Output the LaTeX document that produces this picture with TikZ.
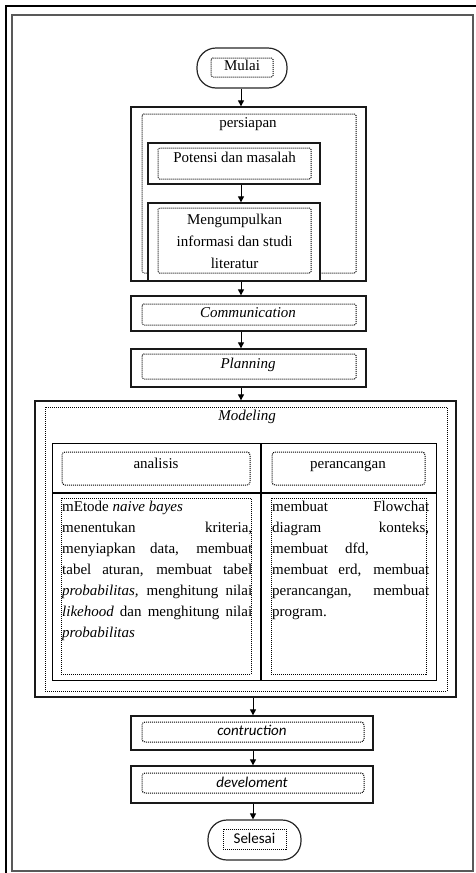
\documentclass[tikz,border=0pt]{standalone}
\usepackage{fontspec}
\setmainfont{Liberation Serif}
\newfontfamily\carl{Carlito}
\usetikzlibrary{arrows.meta,fit}
\begin{document}
\begin{tikzpicture}[x=1pt,y=-1pt,
  solidbox/.style={draw=black!90, line width=1.3pt, inner sep=0pt},
  dotbox/.style={draw=black, line width=1pt, dash pattern=on 1pt off 1pt, inner sep=0pt, rounded corners=1.5pt},
  term/.style={draw=black!85, line width=1.2pt, inner sep=0pt, rounded corners=19pt},
  txt/.style={inner sep=0pt, text height=10.5pt, text depth=3.5pt, font=\fontsize{15}{21}\selectfont},
  mtxt/.style={inner sep=0pt, align=center, font=\fontsize{15}{22}\selectfont},
  arr/.style={draw=black, line width=1pt, -{Triangle[length=6pt,width=6pt]}},
  tline/.style={draw=black, line width=1.2pt}
]
\useasboundingbox (0,0) rectangle (476,873);
\clip (0,0) rectangle (476,873);
% page frames
\draw[line width=2.2pt, black] (6,890) -- (6,6) -- (490,6);
\draw[line width=2pt, black!65] (12,15) rectangle (473,871);

% Mulai
\node[term, fit={(197,48) (287,88)}] (mulai) {};
\node[dotbox, fit={(211,58) (273,77)}] (mulaiD) {};
\node[txt] (tmulai) at (242,67) {Mulai};

% persiapan
\node[solidbox, fit={(131,107) (366,281)}] (persiapan) {};
\node[dotbox, fit={(142,114) (356,273)}] (persiapanD) {};
\node[txt] (tpersiapan) at (248,124) {persiapan};

\node[solidbox, fill=white, fit={(148,143) (320,184)}] (potensi) {};
\node[dotbox, fit={(158,148) (311,179)}] (potensiD) {};
\node[txt] (tpotensi) at (234.5,159) {Potensi dan masalah};

\node[solidbox, fill=white, fit={(148,203) (320,281)}] (kumpul) {};
\node[dotbox, fit={(158,208) (311,273)}] (kumpulD) {};
\node[mtxt] (tkumpul) at (234.5,241) {Mengumpulkan\\informasi dan studi\\literatur};

% Communication / Planning
\node[solidbox, fit={(131,296) (366,331)}] (comm) {};
\node[dotbox, fit={(142,304) (356,325)}] (commD) {};
\node[txt, font=\fontsize{15}{21}\selectfont\itshape] (tcomm) at (248,314) {Communication};

\node[solidbox, fit={(131,349) (366,387)}] (plan) {};
\node[dotbox, fit={(142,354) (356,379)}] (planD) {};
\node[txt, font=\fontsize{15}{21}\selectfont\itshape] (tplan) at (248,365) {Planning};

% Modeling
\node[solidbox, fit={(35,401) (456,697)}] (model) {};
\node[dotbox, rounded corners=0pt, fit={(45,407) (447,691)}] (modelD) {};
\node[txt, font=\fontsize{15}{21}\selectfont\itshape] (tmodel) at (247,417) {Modeling};

\node[inner sep=0pt, fit={(53,444) (436,680)}] (tabel) {};
\draw[tline] (tabel.north west) rectangle (tabel.south east);
\coordinate (hsplit) at (53,493);
\coordinate (vsplit) at (261,444);
\draw[tline] (hsplit) -- (hsplit -| tabel.east);
\draw[tline] (vsplit) -- (vsplit |- tabel.south);

\node[dotbox, rounded corners=3pt, fit={(62,452) (250,485)}] (anaH) {};
\node[dotbox, rounded corners=3pt, fit={(272,452) (425,485)}] (perH) {};
\node[txt] (tana) at (156,465) {analisis};
\node[txt] (tper) at (348,465) {perancangan};

\node[dotbox, rounded corners=0pt, fit={(61,498) (251,674)}] (anaB) {};
\node[dotbox, rounded corners=0pt, fit={(271,498) (426,674)}] (perB) {};

% left body text
\node[txt, anchor=west] (a1) at (62,508) {mEtode \textit{naive bayes}};
\node[txt, anchor=west] (a2) at (62,529) {\makebox[190pt][s]{menentukan kriteria,}};
\node[txt, anchor=west] (a3) at (62,550) {\makebox[190pt][s]{menyiapkan data, membuat}};
\node[txt, anchor=west] (a4) at (62,571) {\makebox[190pt][s]{tabel aturan, membuat tabel}};
\node[txt, anchor=west] (a5) at (62,592) {\makebox[190pt][s]{\textit{probabilitas,} menghitung nilai}};
\node[txt, anchor=west] (a6) at (62,613) {\makebox[190pt][s]{\textit{likehood} dan menghitung nilai}};
\node[txt, anchor=west] (a7) at (62,634) {\textit{probabilitas}};

% right body text
\node[txt, anchor=west] (p1) at (272,508) {\makebox[157pt][s]{membuat Flowchat}};
\node[txt, anchor=west] (p2) at (272,529) {\makebox[157pt][s]{diagram konteks,}};
\node[txt, anchor=west] (p3) at (272,550) {membuat};
\node[txt, anchor=west] (p3b) at (345,550) {dfd,};
\node[txt, anchor=west] (p4) at (272,571) {\makebox[157pt][s]{membuat erd, membuat}};
\node[txt, anchor=west] (p5) at (272,592) {\makebox[157pt][s]{perancangan, membuat}};
\node[txt, anchor=west] (p6) at (272,613) {program.};

% contruction / develoment
\node[solidbox, fit={(131,716) (373,750)}] (contr) {};
\node[dotbox, rounded corners=3pt, fit={(142,722) (364,742)}] (contrD) {};
\node[txt, font=\fontsize{15}{21}\carl\itshape] (tcontr) at (252,732) {contruction};

\node[solidbox, fit={(131,766) (373,803)}] (devel) {};
\node[dotbox, rounded corners=3pt, fit={(142,773) (364,793)}] (develD) {};
\node[txt, font=\fontsize{15}{21}\carl\itshape] (tdevel) at (252,784) {develoment};

% Selesai
\node[term, fit={(208,820) (301,860)}] (selesai) {};
\node[dotbox, rounded corners=0pt, fit={(223,829) (286,849)}] (selesaiD) {};
\node[txt, font=\fontsize{15}{21}\carl] (tselesai) at (254.5,840) {Selesai};

% arrows
\coordinate (colA) at (241,0);
\draw[arr] (mulai.south -| colA) -- (persiapan.north -| colA);
\draw[arr] (potensi.south -| colA) -- (kumpul.north -| colA);
\draw[arr] (persiapan.south -| colA) -- (comm.north -| colA);
\draw[arr] (comm.south -| colA) -- (plan.north -| colA);
\draw[arr] (plan.south -| colA) -- (model.north -| colA);
\coordinate (colB) at (253,0);
\draw[arr] (model.south -| colB) -- (contr.north -| colB);
\draw[arr] (contr.south -| colB) -- (devel.north -| colB);
\draw[arr] (devel.south -| colB) -- (selesai.north -| colB);
\end{tikzpicture}
\end{document}
